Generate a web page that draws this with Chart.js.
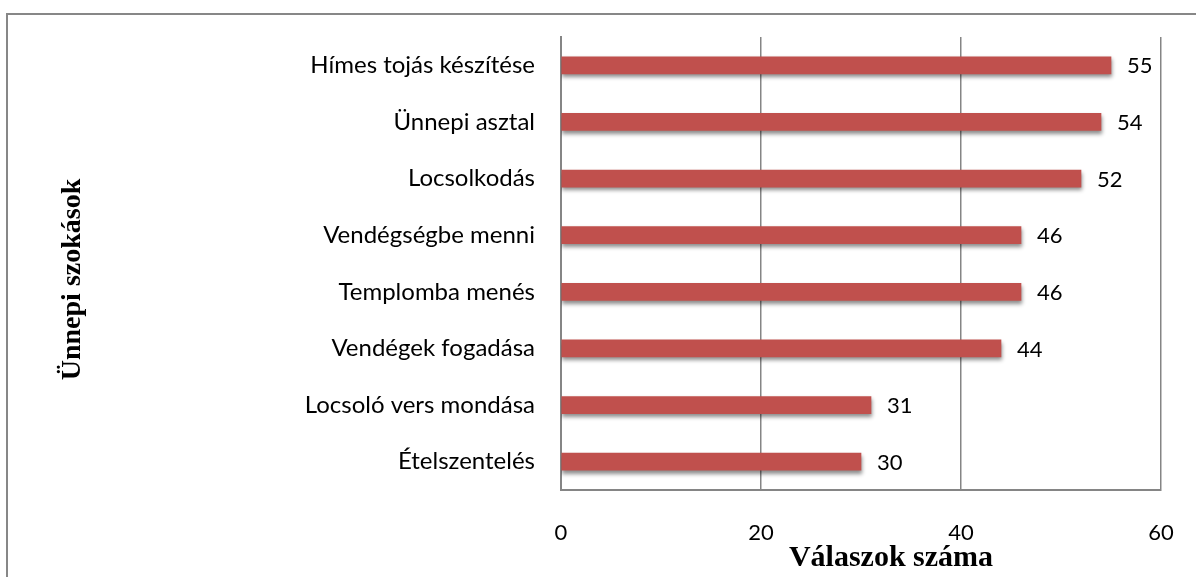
<!DOCTYPE html>
<html>
<head>
<meta charset="utf-8">
<script src="https://cdn.jsdelivr.net/npm/chart.js@4"></script>
<style>
  html, body { margin: 0; padding: 0; background: #fff; }
  #wrap { width: 1196px; height: 577px; }
</style>
</head>
<body>
<div id="wrap"><canvas id="customsChart"></canvas></div>
<script>
const categories = [
    "Hímes tojás készítése",
    "Ünnepi asztal",
    "Locsolkodás",
    "Vendégségbe menni",
    "Templomba menés",
    "Vendégek fogadása",
    "Locsoló vers mondása",
    "Ételszentelés",
];
const answers = [55, 54, 52, 46, 46, 44, 31, 30];
const xTicks = [0, 20, 40, 60];
const xTitle = "Válaszok száma";
const yTitle = "Ünnepi szokások";

const labelFont = "Lato, 'Open Sans', sans-serif";
const titleFont = "'Liberation Serif', 'Times New Roman', serif";

// outer frame like the word chart box
const framePlugin = {
    id: "frame",
    beforeDraw(chart) {
        const ctx = chart.ctx;
        ctx.save();
        ctx.strokeStyle = "#878787";
        ctx.lineWidth = 2;
        ctx.strokeRect(7, 14, chart.width + 20, chart.height + 20);
        ctx.restore();
    },
};

// soft shadow under the bars
const shadowPlugin = {
    id: "barShadow",
    beforeDatasetsDraw(chart) {
        const ctx = chart.ctx;
        ctx.save();
        ctx.shadowColor = "rgba(0, 0, 0, 0.45)";
        ctx.shadowBlur = 4;
        ctx.shadowOffsetX = 1;
        ctx.shadowOffsetY = 3;
    },
    afterDatasetsDraw(chart) {
        chart.ctx.restore();
    },
};

// value labels + axis titles
const labelsPlugin = {
    id: "valueLabels",
    afterDraw(chart) {
        const ctx = chart.ctx;
        const area = chart.chartArea;
        ctx.save();
        ctx.fillStyle = "#000";
        ctx.font = "22px " + labelFont;
        ctx.textAlign = "left";
        ctx.textBaseline = "middle";
        chart.getDatasetMeta(0).data.forEach((bar, i) => {
            ctx.fillText(String(answers[i]), bar.x + 16, bar.y + 1);
        });

        ctx.font = "bold 30px " + titleFont;
        ctx.textAlign = "center";
        ctx.fillText(xTitle, (area.left + area.right) / 2 + 30, chart.height - 19);

        ctx.translate(73, (area.top + area.bottom) / 2 + 16);
        ctx.rotate(-Math.PI / 2);
        ctx.font = "bold 28px " + titleFont;
        ctx.fillText(yTitle, 0, 0);
        ctx.restore();
    },
};

const ctx = document.getElementById("customsChart").getContext("2d");
new Chart(ctx, {
    type: "bar",
    data: {
        labels: categories,
        datasets: [
            {
                data: answers,
                backgroundColor: "#C0504D",
                borderWidth: 0,
                barThickness: 17,
            },
        ],
    },
    options: {
        indexAxis: "y",
        responsive: true,
        maintainAspectRatio: false,
        animation: false,
        layout: {
            padding: { top: 37, right: 35, bottom: 0, left: 0 },
        },
        plugins: {
            legend: { display: false },
            tooltip: { enabled: false },
        },
        scales: {
            x: {
                min: 0,
                max: 60,
                afterBuildTicks(scale) {
                    scale.ticks = xTicks.map((v) => ({ value: v }));
                },
                afterFit(scale) {
                    scale.height = 87;
                    scale.paddingLeft = 0;
                    scale.paddingRight = 0;
                },
                grid: {
                    color: "#858585",
                    lineWidth: 1.5,
                    drawTicks: false,
                },
                border: { color: "#858585", width: 2 },
                ticks: {
                    padding: 30,
                    color: "#000",
                    font: { family: labelFont, size: 22 },
                },
            },
            y: {
                afterFit(scale) {
                    scale.width = 561;
                    scale.paddingTop = 0;
                    scale.paddingBottom = 0;
                },
                grid: { display: false, drawTicks: false },
                border: { color: "#858585", width: 2 },
                ticks: {
                    padding: 26,
                    color: "#000",
                    font: { family: labelFont, size: 24 },
                },
            },
        },
    },
    plugins: [framePlugin, shadowPlugin, labelsPlugin],
});
</script>
</body>
</html>
